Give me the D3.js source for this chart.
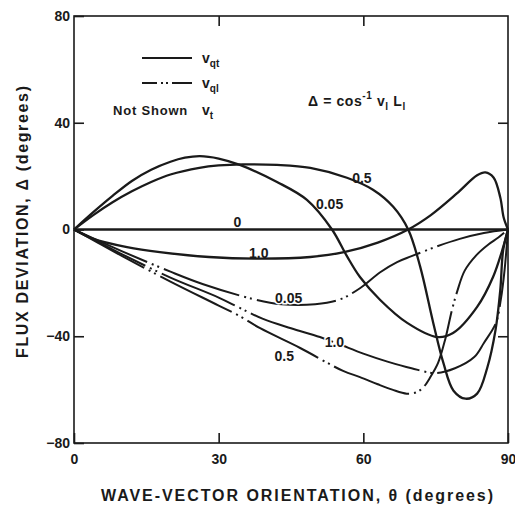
<!DOCTYPE html>
<html>
<head>
<meta charset="utf-8">
<script src="https://cdn.jsdelivr.net/npm/d3@7"></script>
<style>
  body { margin: 0; background: #fff; }
  svg text { font-family: "Liberation Sans", Arial, sans-serif; font-weight: bold; fill: #1a1a1a; }
</style>
</head>
<body>
<div id="chart"></div>
<script>
// axis ticks
const thetaTicks = [0, 30, 60, 90];
const deltaTicks = [80, 40, 0, -40, -80];

// v_qt curves (solid), [theta, delta]
const qtZero = [[0, 0], [90, 0]];
const qt005 = [[0,0],[4,6.5],[8,12.6],[12,18.2],[16,22.4],[20,25.4],[23,26.9],[26.1,27.5],[30,26.6],[34.4,24.2],[42.1,17.8],[48.3,11.1],[53.5,0],[56.6,-10],[59.3,-17.8],[63.5,-26.4],[69.1,-35],[75.3,-40.3],[78.6,-38.8],[83.6,-29],[86.9,-17.8],[89,-6.6],[90,0]];
const qt05 = [[0,0],[4,5.4],[8,10.2],[12,14.3],[16,17.8],[20,20.6],[26,23.1],[30,24],[35,24.4],[42.1,24.2],[49,23.1],[56.6,19.4],[62,14.9],[66.2,8.5],[69.3,0],[71.8,-14],[74.5,-35],[76.6,-50],[78.7,-60.4],[81.2,-63.4],[83.6,-61.5],[85.7,-51.8],[87.4,-37.8],[88.4,-22.7],[89,-7.7],[90,0]];
const qt10 = [[0,0],[3.9,-3.4],[11,-6.6],[17.8,-8.5],[28,-10.3],[38.6,-10.9],[49,-10.3],[56,-8.5],[63,-4.9],[69.3,0],[74,5.4],[79.4,13.5],[83.6,20.3],[85.3,21.4],[87,19.5],[88.4,12],[89.1,4.5],[90,0]];

// v_ql curves (dash-dot-dot)
const ql005 = [[0,0],[5,-4.2],[10,-8.2],[20,-15.8],[26.8,-20.5],[37,-26],[43,-28],[50,-28],[55,-26.3],[59.3,-22],[63.5,-16],[67,-12.2],[70,-10],[75,-6.5],[80,-3.5],[85,-1.3],[90,0]];
const ql10 = [[0,0],[5,-4.6],[10,-9.3],[20,-18],[30,-25.5],[34.4,-29.4],[39.2,-33.5],[45,-37],[51,-40.3],[55,-43],[60,-46.5],[65,-49.5],[70,-52],[75,-53.8],[79,-52],[83,-47.8],[85,-42.5],[87.5,-35],[88.5,-26.4],[89.3,-15],[90,0]];
const ql05 = [[0,0],[5,-5],[10,-10],[20,-19.5],[30,-28.5],[34.4,-32.5],[38.6,-37],[46.9,-44.4],[55.8,-53],[59.3,-55.3],[63,-58],[66,-60],[69,-61.5],[71,-61],[72.5,-59],[74,-55],[75.5,-50],[77,-41],[78.4,-30],[79.5,-23],[81,-15.5],[83.5,-9.5],[86,-5.5],[88,-3],[90,0]];

// curve labels
const labelTheta = [33.9, 38.3, 53, 59.7, 44.5, 54, 43.6];
const labelDelta = [0.9, -10.7, 7.7, 17.4, -27.6, -44.2, -49.3];
const labelText = ["0", "1.0", "0.05", "0.5", "0.05", "1.0", "0.5"];

const w = 515, h = 508;
const plotLeft = 74, plotRight = 508, plotTop = 16, plotBottom = 443;

let svg = d3.select("#chart")
            .append("svg")
            .attr("width", w)
            .attr("height", h);

let x = d3.scaleLinear().domain([0, 90]).range([plotLeft, plotRight]);
let y = d3.scaleLinear().domain([-80, 80]).range([plotBottom, plotTop]);

const ink = "#1a1a1a";

// frame
svg.append("rect")
    .attr("x", plotLeft).attr("y", plotTop)
    .attr("width", plotRight - plotLeft).attr("height", plotBottom - plotTop)
    .attr("fill", "none").attr("stroke", ink).attr("stroke-width", 1.6);

// axes (inward ticks)
let gx = svg.append("g")
    .attr("transform", "translate(0," + plotBottom + ")")
    .call(d3.axisBottom(x).tickValues(thetaTicks).tickSize(-10).tickPadding(11));
let gy = svg.append("g")
    .attr("transform", "translate(" + plotLeft + ",0)")
    .call(d3.axisLeft(y).tickValues(deltaTicks).tickSize(-10).tickPadding(4));
let gt = svg.append("g")
    .attr("transform", "translate(0," + plotTop + ")")
    .call(d3.axisTop(x).tickValues([30, 60]).tickSize(-10).tickFormat(""));
let gr = svg.append("g")
    .attr("transform", "translate(" + plotRight + ",0)")
    .call(d3.axisRight(y).tickValues([40, -40]).tickSize(-10).tickFormat(""));

[gx, gy, gt, gr].forEach(g => {
    g.select(".domain").remove();
    g.selectAll("line").attr("stroke", ink).attr("stroke-width", 1.6);
    g.selectAll("text").attr("font-size", 14).attr("font-family", null).attr("fill", ink);
});

// curves
let line = d3.line()
    .x(d => x(d[0]))
    .y(d => y(d[1]))
    .curve(d3.curveCatmullRom.alpha(0.5));

[qtZero, qt005, qt05, qt10].forEach(s => {
    svg.append("path")
        .attr("d", line(s))
        .attr("fill", "none")
        .attr("stroke", ink)
        .attr("stroke-width", 2.3);
});

[ql005, ql10, ql05].forEach(s => {
    svg.append("path")
        .attr("d", line(s))
        .attr("fill", "none")
        .attr("stroke", ink)
        .attr("stroke-width", 2)
        .attr("stroke-dasharray", "80,5,2,4,2,5");
});

// curve labels
labelText.forEach((t, i) => {
    svg.append("text")
        .attr("x", x(labelTheta[i]))
        .attr("y", y(labelDelta[i]))
        .attr("text-anchor", "middle")
        .attr("font-size", 14)
        .attr("stroke", "#fff")
        .attr("stroke-width", i >= 4 ? 3 : 0)
        .attr("paint-order", "stroke")
        .text(t);
});

// legend
svg.append("line")
    .attr("x1", 142).attr("x2", 192).attr("y1", 58).attr("y2", 58)
    .attr("stroke", ink).attr("stroke-width", 2);
svg.append("line")
    .attr("x1", 142).attr("x2", 192).attr("y1", 83).attr("y2", 83)
    .attr("stroke", ink).attr("stroke-width", 2)
    .attr("stroke-dasharray", "15,4,2,3,2,4,30");

function vsub(xp, yp, sub) {
    let t = svg.append("text").attr("x", xp).attr("y", yp).attr("font-size", 14);
    t.append("tspan").text("v");
    t.append("tspan").attr("dy", 4).attr("font-size", 10).text(sub);
    return t;
}
vsub(202, 63, "qt");
vsub(202, 88, "ql");
svg.append("text")
    .attr("x", 113).attr("y", 115)
    .attr("font-size", 13).attr("letter-spacing", 0.8)
    .text("Not Shown");
vsub(202, 115, "t");

// formula
let f = svg.append("text").attr("x", 308).attr("y", 106)
    .attr("font-size", 14).attr("letter-spacing", 0.6);
f.append("tspan").text("Δ =  cos");
f.append("tspan").attr("dy", -7).attr("font-size", 10).text("-1");
f.append("tspan").attr("dy", 7).text(" v");
f.append("tspan").attr("dy", 4).attr("font-size", 10).text("l");
f.append("tspan").attr("dy", -4).text(" L");
f.append("tspan").attr("dy", 4).attr("font-size", 10).text("l");

// axis titles
svg.append("text")
    .attr("x", 297).attr("y", 501)
    .attr("text-anchor", "middle")
    .attr("font-size", 16)
    .attr("textLength", 392).attr("lengthAdjust", "spacing")
    .text("WAVE-VECTOR ORIENTATION, θ (degrees)");

svg.append("text")
    .attr("transform", "translate(28,222) rotate(-90)")
    .attr("text-anchor", "middle")
    .attr("font-size", 16)
    .attr("textLength", 272).attr("lengthAdjust", "spacing")
    .text("FLUX DEVIATION, Δ (degrees)");
</script>
</body>
</html>
